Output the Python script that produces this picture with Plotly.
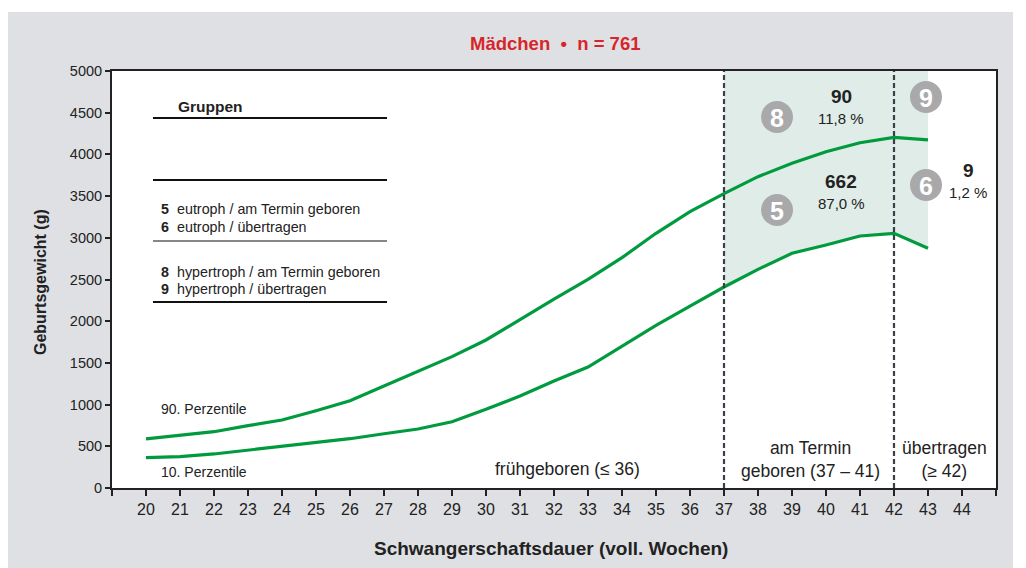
import plotly.graph_objects as go

# ---------------- data ----------------
weeks = list(range(20, 44))
p90 = [590, 632, 675, 747, 815, 927, 1047, 1223, 1395, 1575, 1775, 2023,
       2264, 2502, 2762, 3054, 3313, 3530, 3733, 3893, 4032, 4140, 4205, 4173]
p10 = [364, 376, 408, 452, 496, 548, 591, 651, 707, 795, 943, 1103,
       1283, 1450, 1695, 1950, 2180, 2410, 2622, 2814, 2914, 3022, 3054, 2874]
tick_weeks = list(range(20, 45))
tick_labels = [str(w) for w in tick_weeks]
y_ticks = list(range(0, 5001, 500))

term_start = 37
post_start = 42
shade_end = 43
y_max = 5000

group_numbers = ["5", "6", "8", "9"]
group_texts = ["eutroph / am Termin geboren", "eutroph / übertragen",
               "hypertroph / am Termin geboren", "hypertroph / übertragen"]
counts = ["90", "662", "9"]
shares = ["11,8 %", "87,0 %", "1,2 %"]
circle_labels = ["8", "5", "9", "6"]

title_text = "Mädchen\u00a0\u00a0•\u00a0\u00a0n = 761"

# ---------------- geometry helpers (screen pixel -> paper) ----------------
W, H = 1026, 568
OFF = 8  # page body margin
L, R, T, B = 112 - OFF, 996 - OFF, 71 - OFF, 488 - OFF


def px(x):
    return (x - OFF - L) / (R - L)


def py(y):
    return (B - (y - OFF)) / (B - T)


FONT = "Liberation Sans, Arial, sans-serif"
TXT = "#222222"
GREEN = "#009b3e"

fig = go.Figure()

# shaded term / post-term region down to the 10th percentile
sx = [w for w in weeks if term_start <= w <= shade_end]
sl = [v for w, v in zip(weeks, p10) if term_start <= w <= shade_end]
fig.add_trace(go.Scatter(
    x=sx + sx[::-1], y=[y_max] * len(sx) + sl[::-1],
    fill="toself", fillcolor="#e0ece8", line=dict(width=0),
    mode="lines", hoverinfo="skip", showlegend=False))

for series in (p90, p10):
    fig.add_trace(go.Scatter(x=weeks, y=series, mode="lines",
                             line=dict(color=GREEN, width=3.2),
                             showlegend=False))

shapes = []
# gray panel + white plot background
shapes.append(dict(type="rect", xref="paper", yref="paper",
                   x0=px(8), x1=px(1013), y0=py(600), y1=py(12),
                   fillcolor="#dfe0e3", line=dict(width=0), layer="below"))
shapes.append(dict(type="rect", xref="paper", yref="paper",
                   x0=0, x1=1, y0=0, y1=1,
                   fillcolor="white", line=dict(width=0), layer="below"))
# dashed boundaries
for xv in (term_start, post_start):
    shapes.append(dict(type="line", xref="x", yref="y", x0=xv, x1=xv,
                       y0=0, y1=y_max,
                       line=dict(color="#3a4048", width=2.2, dash="5px,3px")))
# group legend rules
for yy, lw in ((118, 2), (180, 2), (241, 1.2), (302, 2)):
    shapes.append(dict(type="line", xref="paper", yref="paper",
                       x0=px(153), x1=px(387), y0=py(yy), y1=py(yy),
                       line=dict(color="#111111", width=lw)))
# gray circles
circle_pos = [(777, 117), (777, 210), (926, 97), (926, 185)]
for (cx, cy) in circle_pos:
    r = 16
    shapes.append(dict(type="circle", xref="paper", yref="paper",
                       x0=px(cx - r), x1=px(cx + r), y0=py(cy + r), y1=py(cy - r),
                       fillcolor="#a9a9ab", line=dict(width=0)))

ann = []


def add_text(text, x, y, size=14, bold=False, color=TXT, xanchor="center",
             angle=0):
    t = f"<b>{text}</b>" if bold else text
    ann.append(dict(text=t, x=px(x), y=py(y), xref="paper", yref="paper",
                    showarrow=False, xanchor=xanchor, yanchor="middle",
                    textangle=angle,
                    font=dict(family=FONT, size=size, color=color)))


add_text(title_text, 555, 44, size=18.5, bold=True, color="#d7262b")
add_text("Schwangerschaftsdauer (voll. Wochen)", 551, 548, size=19, bold=True)
add_text("Geburtsgewicht (g)", 40, 282, size=16, bold=True, angle=-90)

add_text("Gruppen", 210, 106, size=15.5, bold=True)
for num, txt, yy in zip(group_numbers, group_texts, (209, 227, 272, 289)):
    add_text(num, 159, yy, size=14.3, bold=True, xanchor="left")
    add_text(txt, 175, yy, size=14.3, xanchor="left")

for lab, (cx, cy) in zip(circle_labels, circle_pos):
    add_text(lab, cx, cy + 1, size=25, bold=True, color="white")

for c, s, (xx, yy) in zip(counts, shares, ((841, 97), (841, 181), (968, 170))):
    add_text(c, xx, yy, size=19, bold=True)
    add_text(s, xx, yy + 22, size=15)

add_text("90. Perzentile", 159, 409, size=14, xanchor="left")
add_text("10. Perzentile", 159, 472, size=14, xanchor="left")
add_text("frühgeboren (≤ 36)", 567, 469, size=17.5)
add_text("am Termin<br>geboren (37 – 41)", 810, 459, size=17.5)
add_text("übertragen<br>(≥ 42)", 944, 459, size=17.5)

fig.update_layout(
    width=W, height=H,
    margin=dict(l=L, r=W - R, t=T, b=H - B, pad=0),
    paper_bgcolor="white", plot_bgcolor="rgba(0,0,0,0)",
    shapes=shapes, annotations=ann, showlegend=False,
    font=dict(family=FONT, color=TXT),
)
fig.update_xaxes(
    range=[19, 45], tickmode="array",
    tickvals=[19] + tick_weeks + [45], ticktext=[""] + tick_labels + [""],
    ticks="outside", ticklen=6, tickwidth=1.5, tickcolor="#222",
    showline=True, linewidth=2, linecolor="#222", mirror=True,
    showgrid=False, zeroline=False,
    tickfont=dict(family=FONT, size=16, color=TXT),
)
fig.update_yaxes(
    range=[0, y_max], tickmode="array", tickvals=y_ticks,
    ticks="outside", ticklen=5, tickwidth=1.5, tickcolor="#222",
    showline=True, linewidth=2, linecolor="#222", mirror=True,
    showgrid=False, zeroline=False,
    tickfont=dict(family=FONT, size=14.5, color=TXT),
)

fig.write_html("out.html")
